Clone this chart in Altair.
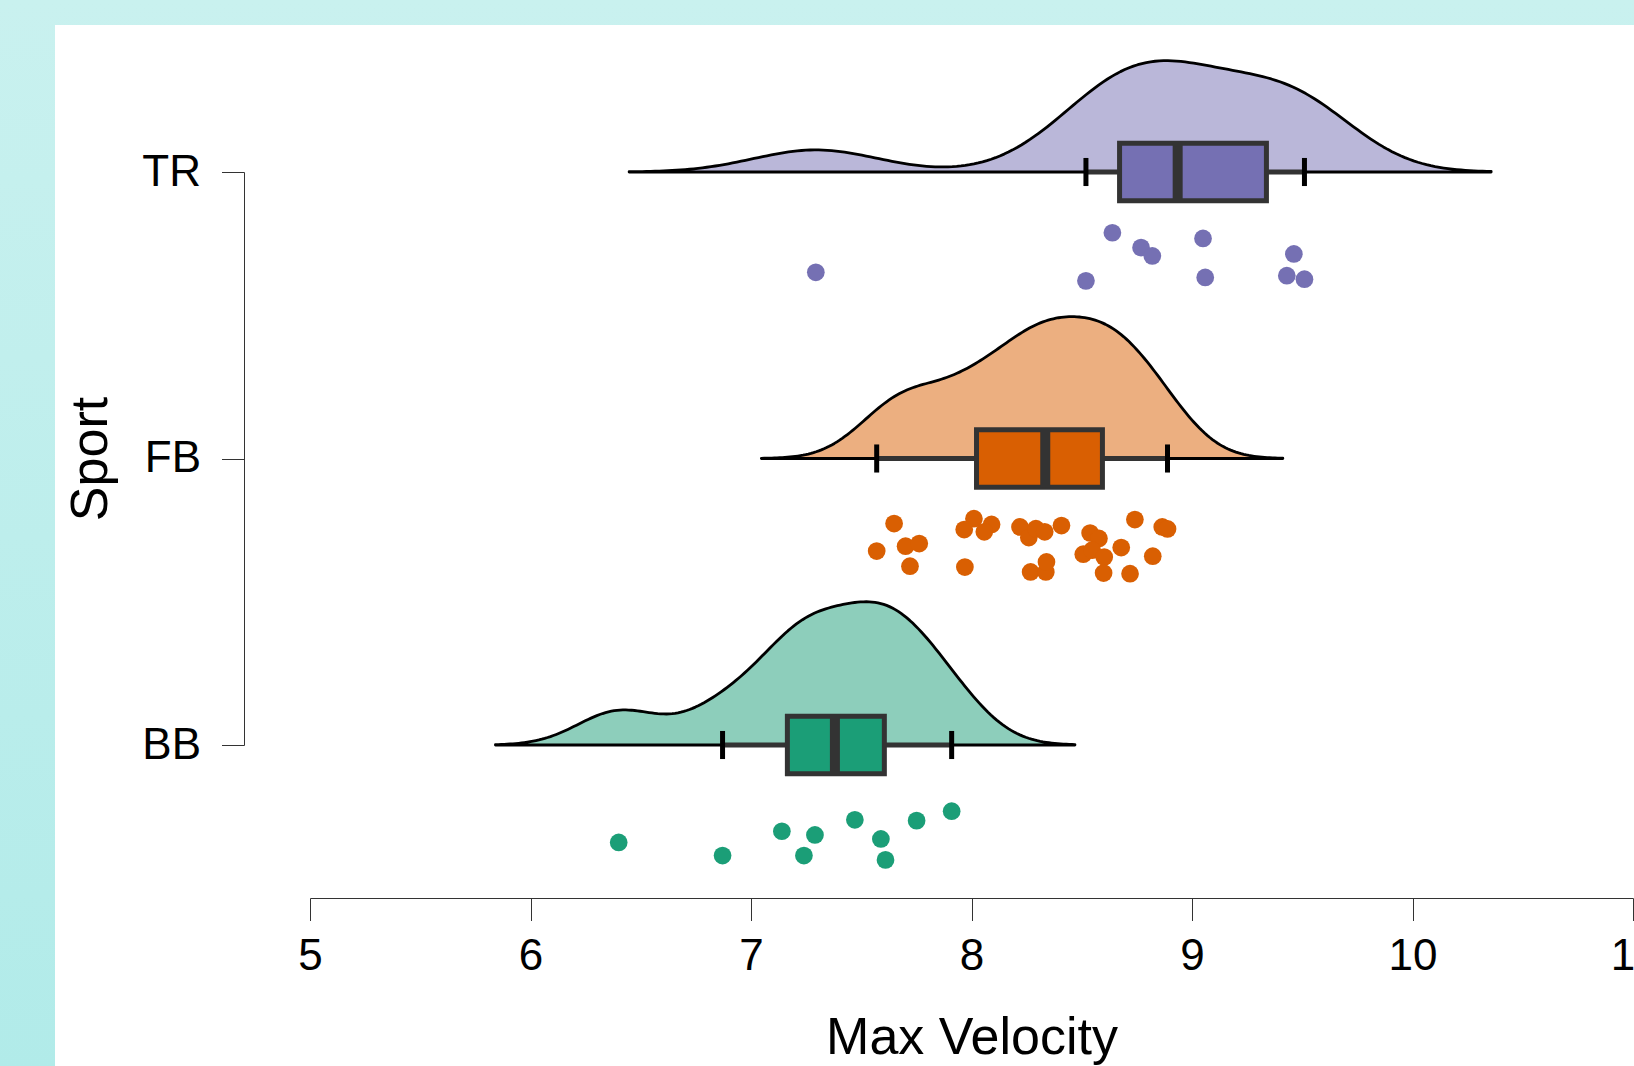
import altair as alt
import numpy as np
import pandas as pd

FONT = "Liberation Sans"

# ---------------- data ----------------
sports = ["BB", "FB", "TR"]
sport_pos = [1, 2, 3]
dark_colors = ["#1b9e77", "#d95f02", "#7570b3"]
light_colors = ["#8dcebb", "#ecaf80", "#bab7d9"]
x_ticks = [5, 6, 7, 8, 9, 10, 11]

bb_values = [6.400, 6.871, 7.140, 7.290, 7.240, 7.471, 7.589, 7.610, 7.751, 7.910]
bb_jitter = [0.340, 0.386, 0.301, 0.314, 0.386, 0.261, 0.328, 0.401, 0.264, 0.231]

fb_values = [7.649, 7.570, 7.701, 7.763, 7.721, 8.011, 7.967, 8.091, 8.058, 7.970,
             8.220, 8.260, 8.292, 8.332, 8.408, 8.268, 8.337, 8.340, 8.538, 8.578,
             8.507, 8.547, 8.602, 8.679, 8.599, 8.719, 8.741, 8.822, 8.865, 8.889]
fb_jitter = [0.227, 0.323, 0.306, 0.297, 0.376, 0.210, 0.248, 0.230, 0.256, 0.379,
             0.239, 0.276, 0.245, 0.256, 0.234, 0.396, 0.396, 0.361, 0.260, 0.279,
             0.334, 0.320, 0.344, 0.311, 0.400, 0.402, 0.213, 0.341, 0.239, 0.246]

tr_values = [7.294, 8.519, 8.639, 8.769, 8.820, 9.050, 9.060, 9.430, 9.462, 9.510]
tr_jitter = [0.350, 0.380, 0.212, 0.264, 0.293, 0.232, 0.368, 0.362, 0.286, 0.374]

group_values = [bb_values, fb_values, tr_values]
group_jitter = [bb_jitter, fb_jitter, tr_jitter]

# ---------------- tables ----------------
rows = []
for s, p, vals, jit in zip(sports, sport_pos, group_values, group_jitter):
    for v, j in zip(vals, jit):
        rows.append({"sport": s, "pos": p, "value": v, "ypt": p - j})
points_df = pd.DataFrame(rows)

# density parameters (R's bw.nrd0, cut = 3)
def nrd0(v):
    v = np.asarray(v, dtype=float)
    q1, q3 = np.percentile(v, [25, 75])
    return 0.9 * min(v.std(ddof=1), (q3 - q1) / 1.34) * len(v) ** -0.2

bws = [nrd0(v) for v in group_values]
extents = [[min(v) - 3 * b, max(v) + 3 * b] for v, b in zip(group_values, bws)]

def peak_pdf(v, b, ext):
    g = np.linspace(ext[0], ext[1], 512)
    v = np.asarray(v)
    d = np.exp(-0.5 * ((g[:, None] - v[None, :]) / b) ** 2).sum(axis=1)
    return (d / (len(v) * b * np.sqrt(2 * np.pi))).max()

VIOLIN_WIDTH = 0.5  # in sport-axis units, tallest half-violin
K = VIOLIN_WIDTH / max(peak_pdf(v, b, e) for v, b, e in zip(group_values, bws, extents))

BOX_HALF = 0.1
CAP_HALF = 0.049

# ---------------- scales / axes ----------------
x_scale = alt.Scale(domain=[x_ticks[0], x_ticks[-1]], nice=False, zero=False)
y_scale = alt.Scale(domain=[sport_pos[0], sport_pos[-1]], nice=False, zero=False)

label_expr = "'" + sports[-1] + "'"
for s, p in zip(sports[:-1], sport_pos[:-1]):
    label_expr = f"datum.value == {p} ? '{s}' : (" + label_expr + ")"

x_axis = alt.Axis(values=x_ticks, format="d", offset=153, tickSize=22.5, tickWidth=1,
                  tickColor="#333333", domainColor="#333333", domainWidth=1,
                  labelFontSize=44, labelFont=FONT, labelColor="black", labelPadding=14,
                  labelFlush=False, labelOverlap=False, grid=False, zindex=1,
                  titleFontSize=52, titleFont=FONT, titleFontWeight="normal",
                  titleColor="black", titleBaseline="alphabetic", titleY=155)
y_axis = alt.Axis(values=sport_pos, labelExpr=label_expr, offset=66, tickSize=22.5,
                  tickWidth=1, tickColor="#333333", domainColor="#333333", domainWidth=1,
                  labelFontSize=44, labelFont=FONT, labelColor="black", labelPadding=21,
                  labelFlush=False, grid=False, zindex=1,
                  titleFontSize=52, titleFont=FONT, titleFontWeight="normal",
                  titleColor="black", titleAngle=270, titleBaseline="alphabetic",
                  titleAlign="center", titleX=-138, titleY=286.5)

def X(f):
    return alt.X(f"{f}:Q", scale=x_scale, axis=x_axis, title="Max Velocity")

def Y(f):
    return alt.Y(f"{f}:Q", scale=y_scale, axis=y_axis, title="Sport")

color_enc = alt.Color("sport:N", scale=alt.Scale(domain=sports, range=dark_colors), legend=None)

# ---------------- background ----------------
one = pd.DataFrame({"k": [0]})
grad = alt.LinearGradient(gradient="linear", x1=0, x2=0, y1=0, y2=1,
                          stops=[alt.GradientStop(color="#c9f1ef", offset=0),
                                 alt.GradientStop(color="#b1ebe9", offset=1)])
bg = alt.Chart(one).mark_rect(color=grad).encode(
    x=alt.value(-310), x2=alt.value(1330), y=alt.value(-172), y2=alt.value(900))
panel = alt.Chart(one).mark_rect(color="white").encode(
    x=alt.value(-255), x2=alt.value(1330), y=alt.value(-147), y2=alt.value(900))

# ---------------- half violins ----------------
violins = []
for s, p, light, b, ext in zip(sports, sport_pos, light_colors, bws, extents):
    v = (alt.Chart(points_df)
         .transform_filter(alt.datum.sport == s)
         .transform_density("value", as_=["value", "density"], bandwidth=float(b),
                            extent=[float(ext[0]), float(ext[1])], steps=200)
         .transform_calculate(base=f"{p}", top=f"{p} + datum.density * {K}")
         .mark_area(fill=light, stroke="black", strokeWidth=2.8, strokeJoin="round")
         .encode(x=X("value"), y=Y("top"), y2="base:Q"))
    violins.append(v)

# ---------------- box plots ----------------
stats = (alt.Chart(points_df)
         .transform_joinaggregate(bq1="q1(value)", bq3="q3(value)", bmed="median(value)",
                                  groupby=["sport", "pos"])
         .transform_calculate(lo="datum.bq1 - 1.5 * (datum.bq3 - datum.bq1)",
                              hi="datum.bq3 + 1.5 * (datum.bq3 - datum.bq1)")
         .transform_filter("datum.value >= datum.lo && datum.value <= datum.hi")
         .transform_aggregate(wlo="min(value)", whi="max(value)", q1="max(bq1)",
                              q3="max(bq3)", med="max(bmed)", groupby=["sport", "pos"])
         .transform_calculate(ybot=f"datum.pos - {BOX_HALF}", ytop=f"datum.pos + {BOX_HALF}",
                              cbot=f"datum.pos - {CAP_HALF}", ctop=f"datum.pos + {CAP_HALF}"))

whisker = stats.mark_rule(color="#333333", strokeWidth=5).encode(x=X("wlo"), x2="whi:Q", y=Y("pos"))
cap_lo = stats.mark_rule(color="black", strokeWidth=5).encode(x=X("wlo"), y=Y("cbot"), y2="ctop:Q")
cap_hi = stats.mark_rule(color="black", strokeWidth=5).encode(x=X("whi"), y=Y("cbot"), y2="ctop:Q")
box = stats.mark_rect(stroke="#333333", strokeWidth=5, opacity=1).encode(
    x=X("q1"), x2="q3:Q", y=Y("ybot"), y2="ytop:Q", color=color_enc)
median = stats.mark_rule(color="#333333", strokeWidth=10).encode(x=X("med"), y=Y("ybot"), y2="ytop:Q")

# ---------------- raw points ----------------
pts = alt.Chart(points_df).mark_circle(size=314, opacity=1).encode(
    x=X("value"), y=Y("ypt"), color=color_enc)

chart = alt.layer(bg, panel, *violins, whisker, cap_lo, cap_hi, box, median, pts).properties(
    width=1323, height=573,
    padding={"left": 310, "top": 172, "right": 1, "bottom": 321},
    autosize=alt.AutoSizeParams(type="none"),
    background="#c9f1ef",
).configure_view(stroke=None)

chart.save("out.html", embed_options={"renderer": "svg", "actions": False})
